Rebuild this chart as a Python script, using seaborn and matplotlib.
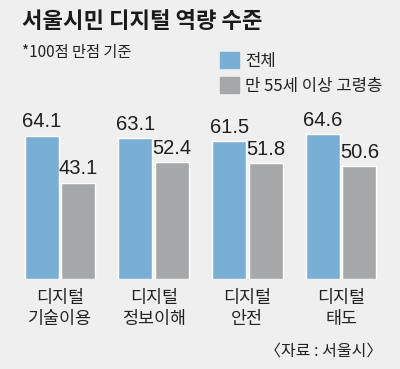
import pandas as pd
import seaborn as sns
import matplotlib.pyplot as plt

categories = ["디지털\n기술이용", "디지털\n정보이해", "디지털\n안전", "디지털\n태도"]
series_names = ["전체", "만 55세 이상 고령층"]
total = [64.1, 63.1, 61.5, 64.6]
senior = [43.1, 52.4, 51.8, 50.6]

df = pd.DataFrame({
    "category": categories * 2,
    "group": [series_names[0]] * 4 + [series_names[1]] * 4,
    "value": total + senior,
})

sns.set_theme(style="white")
plt.rcParams['font.family'] = ['Noto Sans CJK KR', 'DejaVu Sans']

bg = "#efefef"
fig = plt.figure(figsize=(4.0, 3.69), dpi=100, facecolor=bg)
ax = fig.add_axes([13 / 400, 90 / 369, 375 / 400, 179 / 369])
ax.set_facecolor(bg)

sns.barplot(data=df, x="category", y="value", hue="group",
            palette=["#7aafd5", "#a6a7a9"], width=0.777, gap=0.07,
            saturation=1, ax=ax, legend=False)

for cont in ax.containers:
    ax.bar_label(cont, fmt="%.1f", padding=3, fontsize=14.5,
                 family=['Liberation Sans', 'DejaVu Sans'], color="#1e1e1e")

ax.set_ylim(0, 80)
ax.set_xlim(-0.5, 3.5)
ax.set_yticks([])
ax.set_xlabel("")
ax.set_ylabel("")
ax.tick_params(axis="x", length=0, pad=7, labelsize=12.5, labelcolor="#222222")
for s in ax.spines.values():
    s.set_visible(False)

# legend
handles = [plt.Rectangle((0, 0), 1, 1, color=c) for c in ["#7aafd5", "#a6a7a9"]]
fig.legend(handles, series_names, loc="upper left",
           bbox_to_anchor=(212 / 400, 1 - 44 / 369), frameon=False,
           fontsize=12, handlelength=1.1, handleheight=1.05,
           handletextpad=0.4, labelspacing=0.45, borderpad=0,
           labelcolor="#222222")

fig.text(22 / 400, 1 - 22 / 369, "서울시민 디지털 역량 수준", fontsize=16,
         fontweight="bold", va="center", ha="left", color="#1a1a1a")
fig.text(22 / 400, 1 - 53 / 369, "*100점 만점 기준", fontsize=11,
         va="center", ha="left", color="#222222")
fig.text(382 / 400, 1 - 351 / 369, "〈자료 : 서울시〉", fontsize=11.5,
         va="center", ha="right", color="#222222")

fig.savefig("out.png", dpi=100, facecolor=bg)
